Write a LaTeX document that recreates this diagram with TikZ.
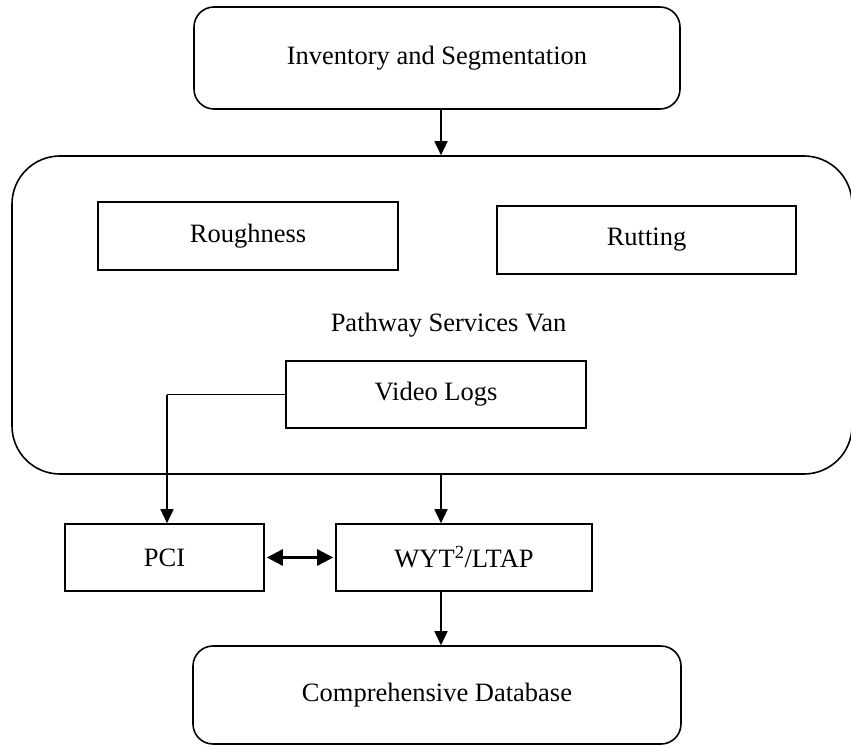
\documentclass[tikz,border=0pt]{standalone}
\usepackage{fontspec}
\setmainfont{Liberation Serif}
\usetikzlibrary{arrows.meta}
\begin{document}
\begin{tikzpicture}[x=1pt,y=-1pt,
  every node/.style={font=\fontsize{26.5}{30}\selectfont},
  box/.style={draw,line width=1.6pt,inner sep=0pt},
  rbox/.style={box,rounded corners=20pt},
  conn/.style={line width=1.6pt,-{Triangle[length=14pt,width=13pt]}},
  dconn/.style={line width=2.6pt,{Triangle[length=16pt,width=16pt]}-{Triangle[length=16pt,width=16pt]}}]
\useasboundingbox (0,0) rectangle (851,746);
\node[rbox,minimum width=486pt,minimum height=102pt] (inv) at (437,58) {Inventory and Segmentation};
\node[box,rounded corners=48pt,minimum width=840pt,minimum height=318pt] (van) at (432,315) {};
\node[anchor=base] (vantxt) at (448.5,331) {Pathway Services Van};
\node[box,minimum width=300pt,minimum height=68pt] (rough) at (248,236) {Roughness};
\node[box,minimum width=299pt,minimum height=68pt] (rut) at (646.5,240) {Rutting};
\node[box,minimum width=300pt,minimum height=67pt] (video) at (436,394.5) {Video Logs};
\node[box,minimum width=199pt,minimum height=67pt] (pci) at (164.5,557.5) {PCI};
\node[box,minimum width=256pt,minimum height=67pt] (wyt) at (464,557.5) {WYT\textsuperscript{2}/LTAP};
\node[rbox,minimum width=488pt,minimum height=98pt] (db) at (437,695) {Comprehensive Database};
\coordinate (ax) at (441,0);
\coordinate (vx) at (167,0);
\draw[conn] (inv.south -| ax) -- (van.north -| ax);
\draw[line width=1.6pt] (video.west) -- (video.west -| vx) coordinate (bend);
\draw[conn] (bend) -- (pci.north -| vx);
\draw[conn] (van.south -| ax) -- (wyt.north -| ax);
\draw[dconn] ([xshift=2pt]pci.east) -- ([xshift=-2pt]wyt.west);
\draw[conn] (wyt.south -| ax) -- (db.north -| ax);
\end{tikzpicture}
\end{document}
